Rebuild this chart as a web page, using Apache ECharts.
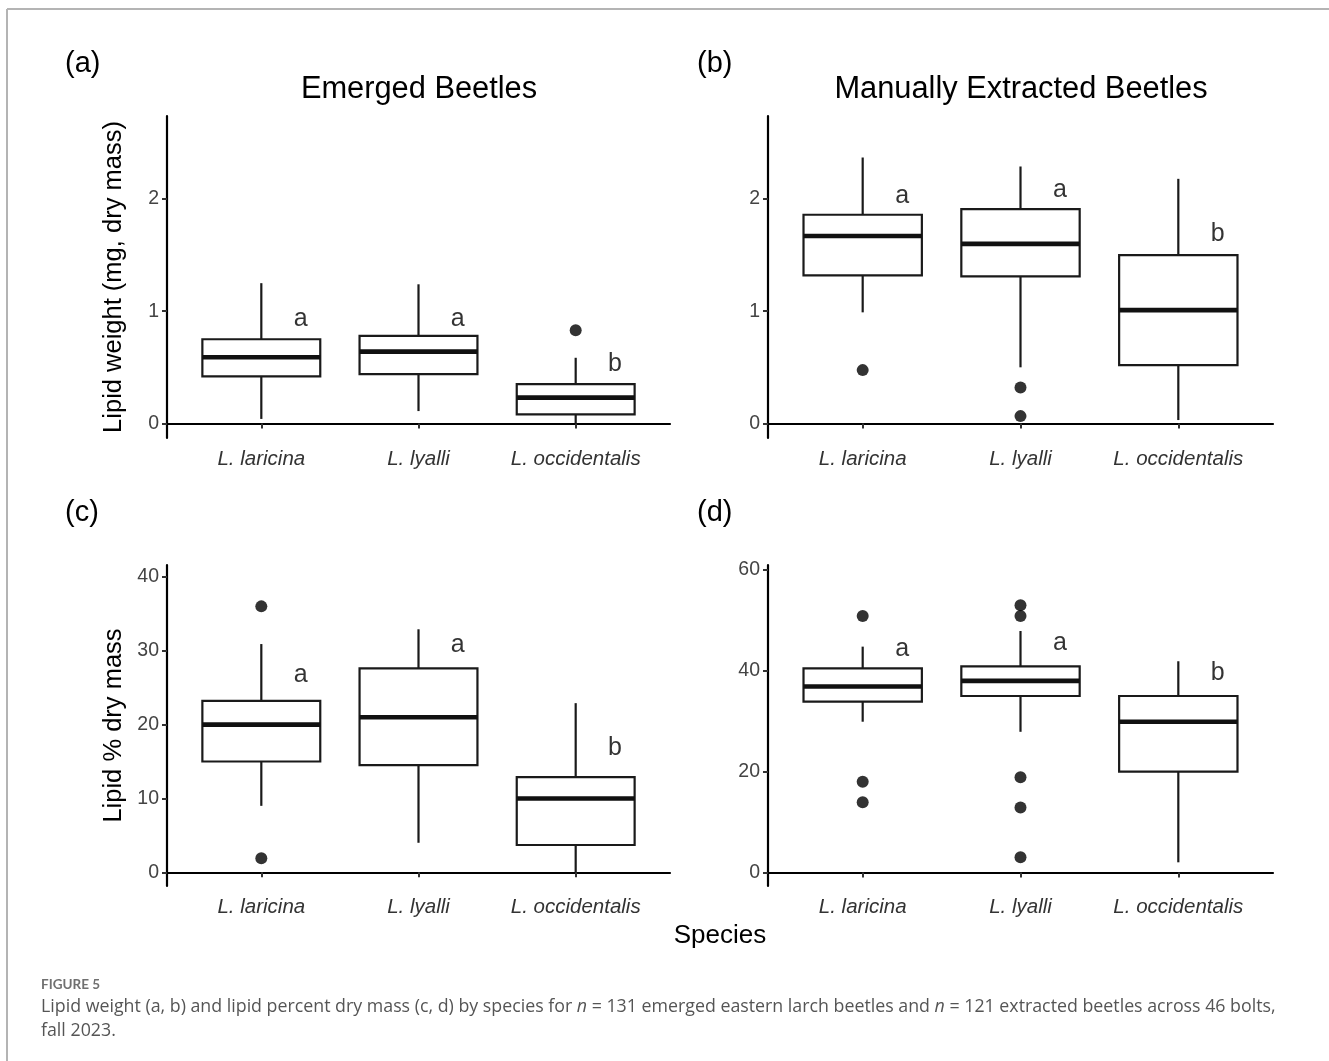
<!DOCTYPE html>
<html><head><meta charset="utf-8">
<script src="https://cdn.jsdelivr.net/npm/echarts@6/dist/echarts.min.js"></script>
<style>html,body{margin:0;padding:0;background:#fff}#c{width:1329px;height:1061px}</style>
</head><body><div id="c"></div><script>
// ---------- data ----------
const species = ['L. laricina', 'L. lyalli', 'L. occidentalis'];
// box stats per species: [lower whisker, Q1, median, Q3, upper whisker]
const boxA = [[0.04, 0.42, 0.59, 0.75, 1.25], [0.11, 0.44, 0.64, 0.78, 1.24], [0.00, 0.08, 0.23, 0.35, 0.585]];
const boxB = [[0.99, 1.32, 1.67, 1.86, 2.37], [0.50, 1.31, 1.60, 1.91, 2.29], [0.03, 0.52, 1.01, 1.50, 2.18]];
const boxC = [[9.0, 15.0, 20.0, 23.2, 30.9], [4.0, 14.5, 21.0, 27.6, 32.9], [0.0, 3.7, 10.0, 12.9, 22.9]];
const boxD = [[29.9, 33.9, 36.9, 40.5, 44.8], [27.9, 35.0, 38.0, 40.9, 47.9], [2.0, 20.0, 29.9, 35.0, 41.9]];
// outliers: [species number (1-3), value]
const outA = [[3, 0.83]];
const outB = [[1, 0.475], [2, 0.32], [2, 0.065]];
const outC = [[1, 36.0], [1, 1.9]];
const outD = [[1, 50.9], [1, 18.0], [1, 13.9], [2, 53.0], [2, 50.9], [2, 18.9], [2, 12.9], [2, 3.0]];
// significance letters and their heights
const letters = ['a', 'a', 'b'];
const letterYA = [0.93, 0.93, 0.53];
const letterYB = [2.03, 2.08, 1.685];
const letterYC = [26.7, 30.7, 16.8];
const letterYD = [44.4, 45.5, 39.5];
// y tick labels
const ticksAB = [0, 1, 2];
const ticksC = [0, 10, 20, 30, 40];
const ticksD = [0, 20, 40, 60];

// ---------- chart ----------
const BOX_HALF = 0.375, LETTER_DX = 0.25;
const INK = '#1a1a1a';
const FONT = 'Liberation Sans';
const grids = [
  {left: 167, top: 116, width: 503, height: 322},
  {left: 768, top: 116, width: 505, height: 322},
  {left: 167, top: 565, width: 503, height: 321},
  {left: 768, top: 565, width: 505, height: 321}
];
const yRanges = [[-0.13, 2.74], [-0.13, 2.74], [-1.85, 41.6], [-2.7, 61.0]];
const yTicks = [ticksAB, ticksAB, ticksC, ticksD];
const yNames = ['Lipid weight (mg, dry mass)', '', 'Lipid % dry mass', ''];
const boxes = [boxA, boxB, boxC, boxD];
const outs = [outA, outB, outC, outD];
const lys = [letterYA, letterYB, letterYC, letterYD];

function renderBox(params, api) {
  const x = api.value(0);
  const lo = api.value(1), q1 = api.value(2), md = api.value(3), q3 = api.value(4), hi = api.value(5);
  const pLo = api.coord([x, lo]), pHi = api.coord([x, hi]);
  const pQ1 = api.coord([x, q1]), pQ3 = api.coord([x, q3]);
  const bl = api.coord([x - BOX_HALF, q1]), tr = api.coord([x + BOX_HALF, q3]);
  const mL = api.coord([x - BOX_HALF, md]), mR = api.coord([x + BOX_HALF, md]);
  const st = {stroke: INK, lineWidth: 2.2};
  return {type: 'group', children: [
    {type: 'line', shape: {x1: pHi[0], y1: pHi[1], x2: pQ3[0], y2: pQ3[1]}, style: st},
    {type: 'line', shape: {x1: pLo[0], y1: pLo[1], x2: pQ1[0], y2: pQ1[1]}, style: st},
    {type: 'rect', shape: {x: bl[0], y: tr[1], width: tr[0] - bl[0], height: bl[1] - tr[1]},
      style: {stroke: INK, lineWidth: 2.2, fill: '#fff'}},
    {type: 'line', shape: {x1: mL[0], y1: mL[1], x2: mR[0], y2: mR[1]}, style: {stroke: '#111', lineWidth: 4.6}}
  ]};
}

const xAxis = [], yAxis = [], series = [];
for (let k = 0; k < 4; k++) {
  xAxis.push({
    type: 'value', gridIndex: k, min: 0.4, max: 3.6,
    axisLine: {show: true, lineStyle: {color: '#000', width: 2.2}},
    axisTick: {show: true, customValues: [1, 2, 3], length: 5, lineStyle: {color: '#333', width: 2}},
    axisLabel: {show: true, customValues: [1, 2, 3], formatter: v => species[Math.round(v) - 1],
      fontStyle: 'italic', fontSize: 20.5, color: '#333', fontFamily: FONT, margin: 11},
    splitLine: {show: false}
  });
  yAxis.push({
    type: 'value', gridIndex: k, min: yRanges[k][0], max: yRanges[k][1],
    name: yNames[k], nameLocation: 'middle', nameRotate: 90, nameGap: 40,
    nameTextStyle: {fontSize: 25.5, color: '#000', fontFamily: FONT},
    axisLine: {show: true, lineStyle: {color: '#000', width: 2.2}},
    axisTick: {show: true, customValues: yTicks[k], length: 5, lineStyle: {color: '#333', width: 2}},
    axisLabel: {show: true, customValues: yTicks[k], formatter: v => String(v),
      fontSize: 19.5, color: '#444', fontFamily: FONT, margin: 8},
    splitLine: {show: false}
  });
  series.push({
    type: 'custom', xAxisIndex: k, yAxisIndex: k, renderItem: renderBox,
    encode: {x: 0, y: [1, 2, 3, 4, 5]},
    data: boxes[k].map((b, i) => [i + 1].concat(b)), silent: true, z: 2
  });
  series.push({
    type: 'scatter', xAxisIndex: k, yAxisIndex: k, symbol: 'circle', symbolSize: 12,
    itemStyle: {color: '#000'}, data: outs[k], silent: true, z: 3
  });
  series.push({
    type: 'scatter', xAxisIndex: k, yAxisIndex: k, symbolSize: 1, itemStyle: {color: 'rgba(0,0,0,0)'},
    data: lys[k].map((y, i) => [i + 1 + LETTER_DX, y]), silent: true, z: 4,
    label: {show: true, position: 'inside', formatter: p => letters[p.dataIndex],
      fontSize: 25, color: '#000', fontFamily: FONT}
  });
}

const T = (text, left, top, size, extra) => ({
  text: text, left: left, top: top, padding: 0,
  textStyle: Object.assign({fontSize: size, fontWeight: 'normal', color: '#000', fontFamily: FONT}, extra || {})
});

const titles = [
  T('(a)', 65, 49, 29), T('(b)', 697, 49, 29), T('(c)', 65, 498, 29), T('(d)', 697, 498, 29),
  Object.assign(T('Emerged Beetles', 419, 74, 30.8), {textAlign: 'center'}),
  Object.assign(T('Manually Extracted Beetles', 1021, 74, 30.8), {textAlign: 'center'}),
  Object.assign(T('Species', 720, 923, 26), {textAlign: 'center'}),
  T('FIGURE 5', 41, 978, 13.5, {color: '#707070', fontFamily: 'Lato', fontWeight: 'bold'}),
  {
    left: 41, top: 995, padding: 0,
    text: '{t|Lipid weight (a, b) and lipid percent dry mass (c, d) by species for }{i|n}{t| = 131 emerged eastern larch beetles and }{i|n}{t| = 121 extracted beetles across 46 bolts,}\n{t|fall 2023.}',
    textStyle: {fontWeight: 'normal', rich: {
      t: {fontSize: 17.8, color: '#555', fontFamily: 'Open Sans', fontWeight: 'normal', lineHeight: 24},
      i: {fontSize: 17.8, color: '#555', fontFamily: 'Open Sans', fontWeight: 'normal', fontStyle: 'italic', lineHeight: 24}
    }}
  }
];

const chart = echarts.init(document.getElementById('c'));
chart.setOption({
  animation: false,
  backgroundColor: '#fff',
  title: titles,
  grid: grids,
  xAxis: xAxis,
  yAxis: yAxis,
  series: series,
  graphic: [
    {type: 'line', shape: {x1: 7, y1: 9, x2: 1329, y2: 9}, style: {stroke: '#b4b4b4', lineWidth: 2}, silent: true},
    {type: 'line', shape: {x1: 7, y1: 9, x2: 7, y2: 1061}, style: {stroke: '#b4b4b4', lineWidth: 2}, silent: true}
  ]
});
</script></body></html>
